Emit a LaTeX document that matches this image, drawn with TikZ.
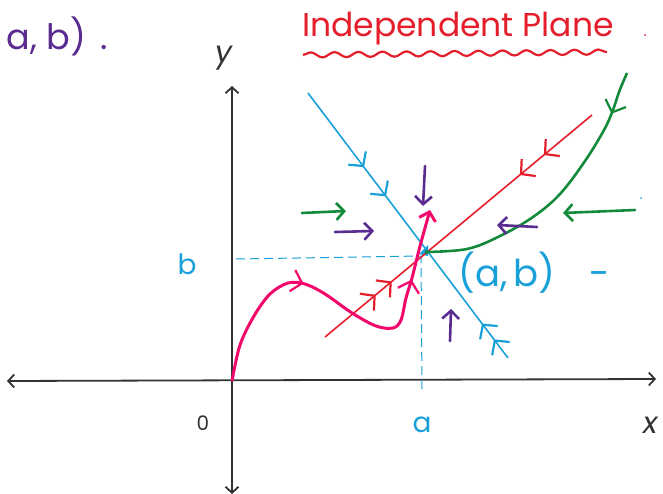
\documentclass[tikz,border=0pt]{standalone}
\usepackage{fontspec}
\setmainfont{Poppins}
\usetikzlibrary{arrows.meta, decorations.markings, decorations.pathmorphing}
\definecolor{inkblack}{HTML}{333333}
\definecolor{inkpurple}{HTML}{5A2B90}
\definecolor{inkred}{HTML}{E41E2B}
\definecolor{inkblue}{HTML}{1AA0D8}
\definecolor{inkgreen}{HTML}{128A3A}
\definecolor{inkpink}{HTML}{F2076A}

\tikzset{
    hand/.tip={Straight Barb[length=8pt, width=17pt]},
    bighand/.tip={Straight Barb[length=10pt, width=22pt]},
    midarrow/.style={postaction={decorate, decoration={markings,
        mark=at position #1 with {\arrow[line width=2.2pt]{bighand}}}}},
    midarrowrev/.style={postaction={decorate, decoration={markings,
        mark=at position #1 with {\arrowreversed[line width=2.2pt]{bighand}}}}}
}

\begin{document}
\begin{tikzpicture}[
    x=1pt, y=-1pt,
    >=hand,
    % Styles
    axis/.style={draw=inkblack, line width=1.8pt, {Straight Barb[length=6pt, width=13pt]}-{Straight Barb[length=6pt, width=13pt]}},
    guide/.style={draw=inkblue, line width=1pt, dash pattern=on 9pt off 5pt},
    manifold/.style={line width=1.6pt},
    flow/.style={line width=2.6pt, ->, line cap=round},
    lbl/.style={inner sep=0pt, anchor=center}
]
    \useasboundingbox (0,0) rectangle (663,494);

    % ================= AXES =================
    \coordinate (xleft) at (7,381);
    \coordinate (xright) at (656,379);
    \coordinate (ytop) at (232,86);
    \coordinate (ybottom) at (232,494);
    \draw[axis] (xleft) -- (xright);
    \draw[axis] (ybottom) -- (ytop);

    \node[lbl, font=\fontsize{30}{32}\selectfont\itshape, text=inkblack] (ylabel) at (224,58) {y};
    \node[lbl, font=\fontsize{30}{32}\selectfont\itshape, text=inkblack] (xlabel) at (651,425) {x};
    \node[lbl, font=\fontsize{20}{22}\selectfont, text=inkblack] (origin) at (203,423) {0};

    % ================= EQUILIBRIUM (a,b) =================
    \coordinate (P) at (425,252);
    \coordinate (bfoot) at (236,259);
    \coordinate (bhead) at (421,256);
    \coordinate (afoot) at (422,389);
    \draw[guide] (bfoot) -- (bhead);
    \draw[guide] (afoot) -- (bhead);
    \fill[inkblue] (419,254) -- (428,245) -- (428,256) -- cycle;

    \node[lbl, font=\fontsize{28}{30}\selectfont, text=inkblue] (alabel) at (422,425) {a};
    \node[lbl, font=\fontsize{28}{30}\selectfont, text=inkblue] (blabel) at (187,264) {b};
    \node[lbl, font=\fontsize{37}{39}\selectfont, text=inkblue, anchor=west] (pointlabel) at (458,273) {(a,\,b)\hspace{34pt}-};

    % ================= TITLE =================
    \node[lbl, font=\fontsize{33}{35}\selectfont, text=inkred] (title) at (458,29) {Independent Plane};
    \draw[inkred, line width=2.2pt, decorate, decoration={snake, amplitude=2.6pt, segment length=24pt}]
        (303,55) -- (607,52);
    \fill[inkred] (645,35) circle (1pt);

    \node[lbl, font=\fontsize{35}{37}\selectfont, text=inkpurple] (corner) at (57,36) {a, b)\hspace{14pt}.};

    % ================= STABLE LINES =================
    % blue line: into (a,b) from both sides
    \coordinate (blueA) at (308,93);
    \coordinate (blueB) at (508,358);
    \draw[inkblue, manifold, midarrow=0.28, midarrow=0.39,
          midarrowrev=0.87, midarrowrev=0.93] (blueA) -- (blueB);

    % red line
    \coordinate (redA) at (325,337);
    \coordinate (redB) at (592,115);
    \draw[inkred, manifold, midarrow=0.19, midarrow=0.25,
          midarrowrev=0.73, midarrowrev=0.82] (redA) -- (redB);

    % green curve
    \draw[inkgreen, line width=2.6pt, midarrowrev=0.85]
        plot[smooth, tension=0.6] coordinates {(P) (467,249) (500,236) (533,217) (560,194)
        (585,161) (604,130) (613,110) (619,92) (627,73)};
    \fill[inkblue] (641,198) circle (1pt);

    % pink trajectory
    \draw[inkpink, line width=3pt, ->, midarrow=0.37, midarrow=0.8]
        plot[smooth, tension=0.55] coordinates {(232,381) (240,345) (254,316) (270,294)
        (288,283) (305,284) (325,294) (352,313) (376,326) (393,328) (401,320) (406,298)
        (412,278) (419,250) (425,228) (430,210)};

    % ================= FLOW ARROWS =================
    \coordinate (g1s) at (302,213); \coordinate (g1e) at (346,211);
    \coordinate (g2s) at (635,210); \coordinate (g2e) at (563,213);
    \draw[inkgreen, flow] (g1s) -- (g1e);
    \draw[inkgreen, flow] (g2s) -- (g2e);

    \coordinate (p1s) at (335,232); \coordinate (p1e) at (374,231);
    \coordinate (p2s) at (425,166); \coordinate (p2e) at (423,206);
    \coordinate (p3s) at (537,227); \coordinate (p3e) at (497,225);
    \coordinate (p4s) at (450,341); \coordinate (p4e) at (451,309);
    \draw[inkpurple, flow] (p1s) -- (p1e);
    \draw[inkpurple, flow] (p2s) -- (p2e);
    \draw[inkpurple, flow] (p3s) -- (p3e);
    \draw[inkpurple, flow] (p4s) -- (p4e);

\end{tikzpicture}
\end{document}
